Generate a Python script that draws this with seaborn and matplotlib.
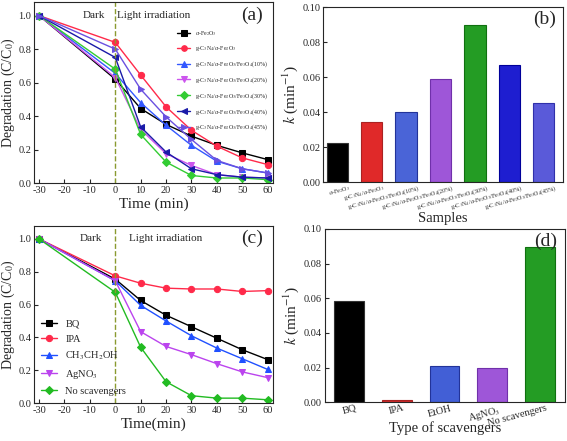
import numpy as np
import pandas as pd
import matplotlib
matplotlib.use("Agg")
import matplotlib.pyplot as plt
import seaborn as sns

sns.set_style("ticks")
plt.rcParams['font.family'] = ['Liberation Serif', 'DejaVu Serif']
plt.rcParams['mathtext.fontset'] = 'stix'
plt.rcParams['axes.unicode_minus'] = False

# data
time = [-30, 0, 10, 20, 30, 40, 50, 60]

a_labels = [r'$\alpha$-Fe$_2$O$_3$',
            r'g-C$_3$N$_4$/$\alpha$-Fe$_2$O$_3$',
            r'g-C$_3$N$_4$/$\alpha$-Fe$_2$O$_3$/Fe$_3$O$_4$(10%)',
            r'g-C$_3$N$_4$/$\alpha$-Fe$_2$O$_3$/Fe$_3$O$_4$(20%)',
            r'g-C$_3$N$_4$/$\alpha$-Fe$_2$O$_3$/Fe$_3$O$_4$(30%)',
            r'g-C$_3$N$_4$/$\alpha$-Fe$_2$O$_3$/Fe$_3$O$_4$(40%)',
            r'g-C$_3$N$_4$/$\alpha$-Fe$_2$O$_3$/Fe$_3$O$_4$(45%)']
fe2o3 = [1.0, 0.62, 0.445, 0.35, 0.28, 0.225, 0.18, 0.14]
cn_fe2o3 = [1.0, 0.84, 0.645, 0.455, 0.315, 0.22, 0.15, 0.11]
p10 = [1.0, 0.655, 0.48, 0.345, 0.225, 0.13, 0.085, 0.06]
p20 = [1.0, 0.63, 0.32, 0.175, 0.105, 0.05, 0.035, 0.03]
p30 = [1.0, 0.68, 0.29, 0.125, 0.045, 0.03, 0.03, 0.02]
p40 = [1.0, 0.75, 0.335, 0.185, 0.085, 0.05, 0.035, 0.03]
p45 = [1.0, 0.80, 0.56, 0.395, 0.26, 0.135, 0.085, 0.06]

k_samples = [0.0225, 0.0345, 0.040, 0.059, 0.0895, 0.067, 0.045]

c_labels = ['BQ', 'IPA', r'CH$_3$CH$_2$OH', r'AgNO$_3$', 'No scavengers']
bq = [1.0, 0.755, 0.625, 0.535, 0.465, 0.395, 0.325, 0.265]
ipa = [1.0, 0.775, 0.73, 0.70, 0.695, 0.695, 0.68, 0.685]
etoh = [1.0, 0.745, 0.595, 0.50, 0.41, 0.335, 0.27, 0.205]
agno3 = [1.0, 0.745, 0.435, 0.345, 0.295, 0.24, 0.19, 0.155]
noscav = [1.0, 0.675, 0.34, 0.13, 0.045, 0.03, 0.03, 0.02]

d_labels = ['BQ', 'IPA', 'EtOH', r'AgNO$_3$', 'No scavengers']
k_scav = [0.0585, 0.0015, 0.021, 0.020, 0.0895]

fig = plt.figure(figsize=(5.67, 4.41), dpi=100)
ax_a = fig.add_axes([0.06, 0.585, 0.421, 0.41])
ax_b = fig.add_axes([0.570, 0.587, 0.423, 0.397])
ax_c = fig.add_axes([0.06, 0.086, 0.421, 0.402])
ax_d = fig.add_axes([0.573, 0.088, 0.423, 0.393])


def line_panel(ax, series, labels, colors, markers, xlabel, tag, dark_x, light_x):
    for y, lab, col, m in zip(series, labels, colors, markers):
        sns.lineplot(x=time, y=y, ax=ax, color=col, marker=m, markersize=4.5,
                     markeredgecolor=col, linewidth=1.0, label=lab)
    ax.axvline(0, color='#8a9a30', linestyle='--', linewidth=1.0)
    ax.set_xlim(-32, 62)
    ax.set_ylim(0, 1.08)
    ax.set_xticks(range(-30, 61, 10))
    ax.set_yticks(np.arange(0, 1.01, 0.2))
    ax.set_yticklabels([f'{v:.1f}' for v in np.arange(0, 1.01, 0.2)])
    ax.set_xlabel(xlabel, fontsize=11, labelpad=2)
    ax.set_ylabel(r'Degradation (C/C$_0$)', fontsize=10, labelpad=1)
    ax.tick_params(direction='in', labelsize=7.5, length=3, pad=2)
    ax.text(dark_x, 1.0, 'Dark', fontsize=8, ha='center', va='center')
    ax.text(light_x, 1.0, 'Light irradiation', fontsize=8, ha='center', va='center')
    ax.text(0.96, 0.93, tag, transform=ax.transAxes, fontsize=14, ha='right', va='center')


line_panel(ax_a, [fe2o3, cn_fe2o3, p10, p20, p30, p40, p45], a_labels,
           ['#000000', '#ff2a4a', '#3358ff', '#cc55ee', '#33cc33', '#1a1aa8', '#6a50e0'],
           ['s', 'o', '^', 'v', 'D', '<', '>'], 'Time (min)', '(a)', -8.5, 15)
ax_a.legend(loc='upper right', bbox_to_anchor=(1.0, 0.88), fontsize=4.2, frameon=False,
            handlelength=2.2, labelspacing=1.05, markerscale=0.9)

line_panel(ax_c, [bq, ipa, etoh, agno3, noscav], c_labels,
           ['#000000', '#ff2a4a', '#2050ff', '#bb44ee', '#22bb22'],
           ['s', 'o', '^', 'v', 'D'], 'Time(min)', '(c)', -9.5, 20)
ax_c.legend(loc='lower left', fontsize=7.5, frameon=False, handlelength=1.5,
            labelspacing=0.55, borderaxespad=0.3)


def bar_panel(ax, labels, vals, colors, edges, xlabel, tag, fs, shift, width, lpad):
    df = pd.DataFrame({'name': labels, 'k': vals})
    sns.barplot(data=df, x='name', y='k', hue='name', palette=colors, ax=ax,
                width=width, legend=False, linewidth=0.8)
    for p, e in zip(ax.patches, edges):
        p.set_edgecolor(e)
    ax.set_ylim(0, 0.10)
    ax.set_yticks(np.arange(0, 0.101, 0.02))
    ax.set_yticklabels([f'{v:.2f}' for v in np.arange(0, 0.101, 0.02)])
    ax.set_ylabel(r'$k$ (min$^{-1}$)', fontsize=11, labelpad=2)
    ax.set_xlabel(xlabel, fontsize=10.5, labelpad=lpad)
    ax.tick_params(axis='y', direction='in', labelsize=7.5, length=3, pad=2)
    ax.tick_params(axis='x', length=0, labelsize=fs, pad=1)
    off = matplotlib.transforms.ScaledTranslation(shift, 0, fig.dpi_scale_trans)
    for t in ax.get_xticklabels():
        t.set_rotation(15)
        t.set_ha('right')
        t.set_rotation_mode('anchor')
        t.set_transform(t.get_transform() + off)
    ax.text(0.97, 0.93, tag, transform=ax.transAxes, fontsize=14, ha='right', va='center')


bar_panel(ax_b, a_labels, k_samples,
          ['#000000', '#ff0a0a', '#3355ee', '#a040ee', '#10b010', '#0000ee', '#4545ee'],
          ['#333333', '#aa2222', '#223399', '#7030aa', '#107010', '#000099', '#3030aa'],
          'Samples', '(b)', 4.3, 0.12, 0.62, 0)
ax_b.set_xlim(-0.41, 6.56)

bar_panel(ax_d, d_labels, k_scav,
          ['#000000', '#ee1010', '#2a50ee', '#a040ee', '#10b010'],
          ['#333333', '#aa2222', '#223399', '#7030aa', '#107010'],
          'Type of scavengers', '(d)', 7.5, 0.06, 0.62, -5)
ax_d.set_xlim(-0.51, 4.52)

fig.savefig('out.png', dpi=100)
